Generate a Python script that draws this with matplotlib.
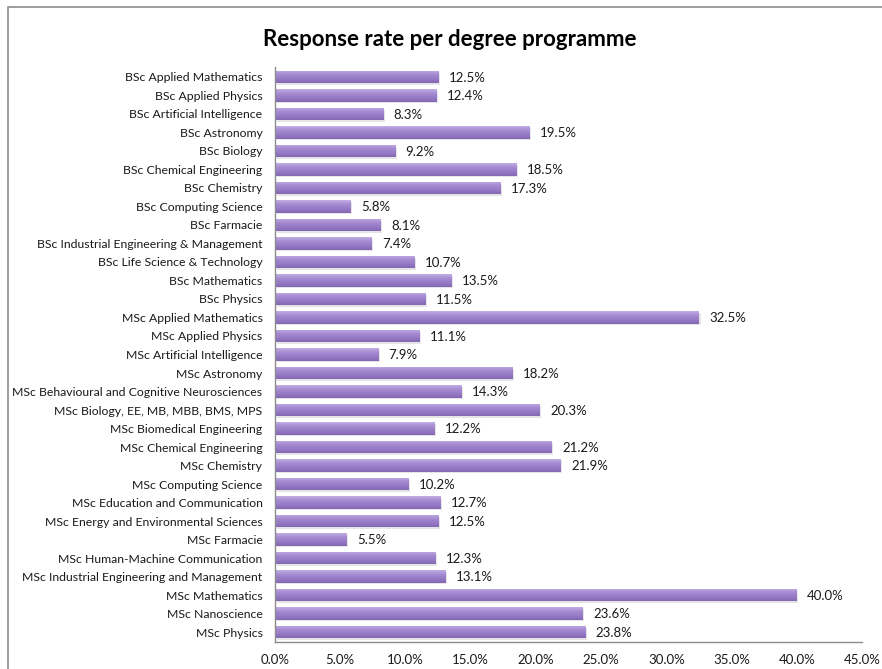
import numpy as np
import matplotlib
matplotlib.use("Agg")
import matplotlib.pyplot as plt
from matplotlib.colors import LinearSegmentedColormap
from matplotlib.patches import Rectangle
from matplotlib.ticker import FuncFormatter, MultipleLocator

plt.rcParams['font.family'] = ['Lato', 'DejaVu Sans']

programmes = [
    "BSc Applied Mathematics", "BSc Applied Physics", "BSc Artificial Intelligence",
    "BSc Astronomy", "BSc Biology", "BSc Chemical Engineering", "BSc Chemistry",
    "BSc Computing Science", "BSc Farmacie", "BSc Industrial Engineering & Management",
    "BSc Life Science & Technology", "BSc Mathematics", "BSc Physics",
    "MSc Applied Mathematics", "MSc Applied Physics", "MSc Artificial Intelligence",
    "MSc Astronomy", "MSc Behavioural and Cognitive Neurosciences",
    "MSc Biology, EE, MB, MBB, BMS, MPS", "MSc Biomedical Engineering",
    "MSc Chemical Engineering", "MSc Chemistry", "MSc Computing Science",
    "MSc Education and Communication", "MSc Energy and Environmental Sciences",
    "MSc Farmacie", "MSc Human-Machine Communication",
    "MSc Industrial Engineering and Management", "MSc Mathematics",
    "MSc Nanoscience", "MSc Physics",
]
response_rate = [
    12.5, 12.4, 8.3, 19.5, 9.2, 18.5, 17.3, 5.8, 8.1, 7.4, 10.7, 13.5, 11.5,
    32.5, 11.1, 7.9, 18.2, 14.3, 20.3, 12.2, 21.2, 21.9, 10.2, 12.7, 12.5,
    5.5, 12.3, 13.1, 40.0, 23.6, 23.8,
]

fig = plt.figure(figsize=(8.82, 6.69), dpi=100)
ax = fig.add_axes([275 / 882, 1 - 642 / 669, 587 / 882, 575 / 669])

# chart frame
fig.patches.append(Rectangle((8 / 882, -0.05), 1.0, 1 - 7 / 669 + 0.05,
                             transform=fig.transFigure, fill=False,
                             edgecolor="#8c8c8c", linewidth=1.2, zorder=0))

y = np.arange(len(programmes))
bar_h = 0.66

# soft drop shadows
ax.barh(y + 0.09, response_rate, height=bar_h, left=0.12,
        color="#000000", alpha=0.10, linewidth=0, zorder=1)
bars = ax.barh(y, response_rate, height=bar_h, color="none", linewidth=0, zorder=2)

grad_cmap = LinearSegmentedColormap.from_list(
    "bar_grad", ["#c2aee3", "#a58bd2", "#967bc6", "#8467b4"])
grad = np.linspace(0, 1, 64).reshape(-1, 1)
for rect, val, yi in zip(bars, response_rate, y):
    im = ax.imshow(grad, cmap=grad_cmap, aspect="auto", interpolation="bicubic",
                   extent=(0, val, yi + bar_h / 2, yi - bar_h / 2), zorder=2)
    im.set_clip_path(rect)
    ax.text(val + 0.8, yi + 0.05, f"{val:.1f}%", va="center", ha="left",
            fontsize=9.5, color="#1a1a1a")

ax.set_xlim(0, 45)
ax.set_ylim(len(programmes) - 1 + 0.54, -0.54)
ax.set_yticks(y)
ax.set_yticklabels(programmes, fontsize=8.8, color="#1a1a1a")
ax.xaxis.set_major_locator(MultipleLocator(5))
ax.xaxis.set_major_formatter(FuncFormatter(lambda v, _: f"{v:.1f}%"))
ax.tick_params(axis="x", labelsize=9.5, length=0, pad=9, colors="#1a1a1a")
ax.tick_params(axis="y", length=0, pad=9)
for side in ("top", "right"):
    ax.spines[side].set_visible(False)
for side in ("left", "bottom"):
    ax.spines[side].set_color("#8c8c8c")
    ax.spines[side].set_linewidth(1.0)

fig.text(450 / 882, 1 - 39 / 669, "Response rate per degree programme",
         ha="center", va="center", fontsize=16, fontweight="bold", color="#000000")

fig.savefig("out.png", dpi=100)
